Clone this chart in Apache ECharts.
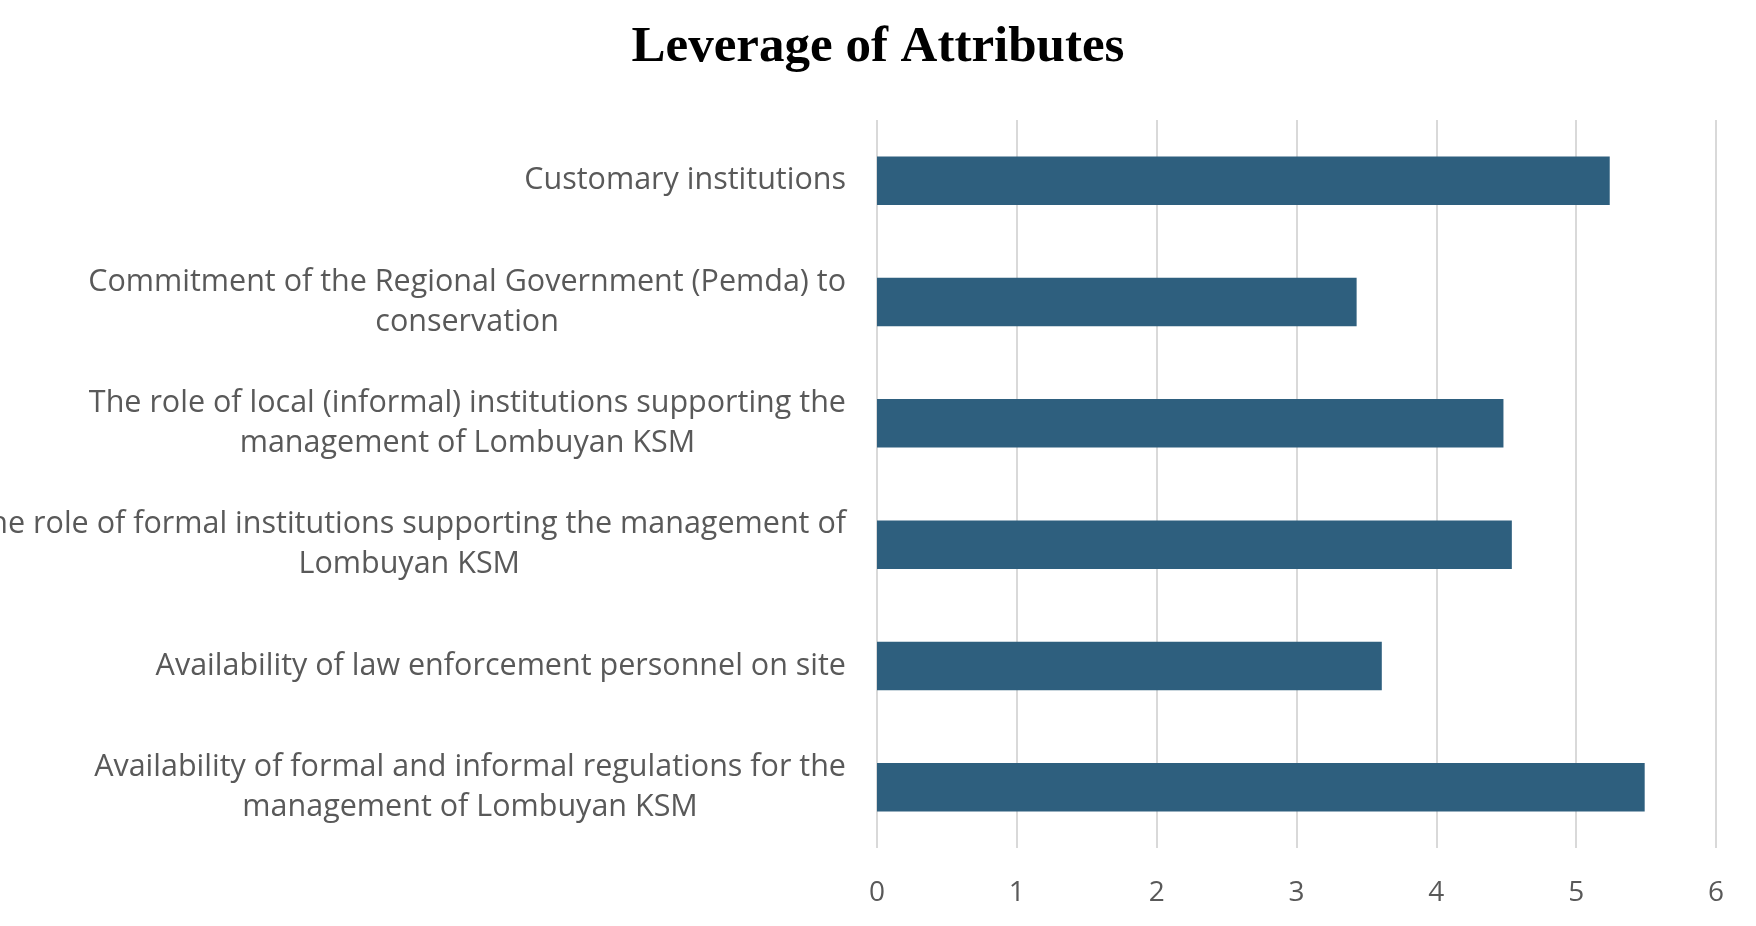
<!DOCTYPE html>
<html>
<head>
<meta charset="utf-8">
<script src="https://cdn.jsdelivr.net/npm/echarts@6/dist/echarts.min.js"></script>
<style>html,body{margin:0;padding:0;background:#fff;}#c{width:1756px;height:926px;}</style>
</head>
<body>
<div id="c"></div>
<script>
const titleText = "Leverage of Attributes";
const categories = [
  "Customary institutions",
  "Commitment of the Regional Government (Pemda) to\nconservation",
  "The role of local (informal) institutions supporting the\nmanagement of Lombuyan KSM",
  "The role of formal institutions supporting the management of\nLombuyan KSM",
  "Availability of law enforcement personnel on site",
  "Availability of formal and informal regulations for the\nmanagement of Lombuyan KSM"
];
const values = [5.24, 3.43, 4.48, 4.54, 3.61, 5.49];
const tickMin = 0, tickMax = 6, tickStep = 1;

const labelFont = 'Open Sans';
const chart = echarts.init(document.getElementById('c'));
chart.setOption({
  animation: false,
  backgroundColor: '#ffffff',
  title: {
    text: titleText,
    left: 'center',
    top: 17,
    textStyle: { fontFamily: 'Liberation Serif', fontWeight: 'bold', fontSize: 51, color: '#000000' }
  },
  grid: { left: 877, right: 40, top: 120, bottom: 78, containLabel: false, outerBoundsMode: 'none' },
  xAxis: {
    type: 'value', min: tickMin, max: tickMax, interval: tickStep,
    axisLine: { show: false }, axisTick: { show: false },
    splitLine: { show: true, lineStyle: { color: '#d9d9d9', width: 2 } },
    axisLabel: { color: '#595959', fontSize: 28, fontFamily: labelFont, margin: 31 }
  },
  yAxis: {
    type: 'category', data: categories, inverse: true,
    axisLine: { show: false }, axisTick: { show: false },
    axisLabel: {
      margin: 31, align: 'right', interval: 0,
      formatter: v => v.split('\n').map(l => '{c|' + l + '}').join('\n'),
      rich: { c: { align: 'center', color: '#595959', fontSize: 30.5, fontFamily: labelFont, lineHeight: 40 } }
    }
  },
  series: [{
    type: 'bar', data: values, barCategoryGap: '60%',
    itemStyle: { color: '#2e5f7e' }
  }]
});
</script>
</body>
</html>
